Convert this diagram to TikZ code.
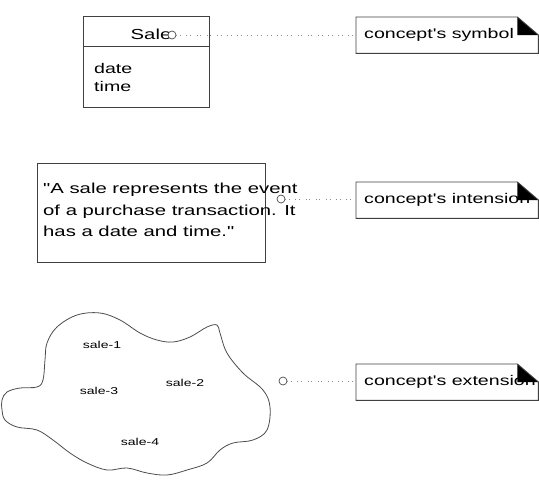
\documentclass[tikz,border=0pt]{standalone}
\usepackage{fontspec}
\setmainfont[FakeStretch=1.4, Ligatures=TeXReset]{Liberation Sans}
\begin{document}
\begin{tikzpicture}[x=1pt,y=-1pt,
  box/.style={draw=black!75, line width=0.9pt},
  dotline/.style={draw=black!45, line width=0.8pt, dash pattern=on 0.8pt off 3pt on 0.8pt off 5.5pt},
  port/.style={circle, draw=black!70, line width=0.7pt, fill=white, minimum size=8pt, inner sep=0pt},
  notebox/.style={minimum width=182pt, minimum height=36pt, anchor=north west, inner sep=0pt},
  notetext/.style={font=\fontsize{14}{16}\selectfont, anchor=west, inner sep=0pt},
  lbl/.style={font=\fontsize{10}{12}\selectfont, inner sep=0pt}
]
\useasboundingbox (0,0) rectangle (539,480);

% class box
\node[box, minimum width=126pt, minimum height=30pt, anchor=north west, inner sep=0pt] (cls) at (83,16) {};
\node[box, minimum width=126pt, minimum height=61pt, anchor=north west, inner sep=0pt] (attr) at (83,46) {};
\node[font=\fontsize{14.5}{16}\selectfont, inner sep=0pt] (sale) at (151,34) {Sale};
\node[font=\fontsize{14}{18}\selectfont, anchor=north west, align=left, inner sep=0pt] (attrs) at (94,63) {date\\time};
\node[port] (c1) at (172,35) {};

% intension box
\node[box, minimum width=228pt, minimum height=99pt, anchor=north west, inner sep=0pt] (def) at (37,163) {};
\node[font=\fontsize{14.5}{21.5}\selectfont, anchor=north west, align=left, inner sep=0pt] (deftext) at (43,183)
  {"A sale represents the event\\of a purchase transaction. It\\has a date and time."};
\node[port] (c2) at (281,199) {};

% extension blob
\draw[draw=black!70, line width=0.8pt] plot[smooth cycle, tension=0.6] coordinates {
 (2,400) (7,392) (20,388) (37,387) (43,380) (45,360) (47,343) (57,327) (77,315) (100,313)
 (120,320) (140,333) (157,340) (173,342) (190,337) (207,327) (217,325) (220,333) (227,353)
 (243,373) (263,390) (270,407) (267,430) (253,440) (233,443) (220,450) (207,463) (187,470)
 (167,475) (147,473) (127,468) (107,470) (87,463) (70,453) (53,440) (37,430) (17,427) (5,420) (2,410)};
\node[lbl] (s1) at (102,345) {sale-1};
\node[lbl] (s3) at (99,391) {sale-3};
\node[lbl] (s2) at (185,383) {sale-2};
\node[lbl] (s4) at (140,442) {sale-4};
\node[port] (c3) at (283,381) {};

% notes
\node[notebox] (n1) at (356,17) {};
\node[notebox] (n2) at (356,182) {};
\node[notebox] (n3) at (356,364) {};
\node[notetext] (t1) at ([xshift=8pt]n1.west) {concept's symbol};
\node[notetext] (t2) at ([xshift=8pt]n2.west) {concept's intension};
\node[notetext] (t3) at ([xshift=8pt]n3.west) {concept's extension};
\foreach \n in {n1,n2,n3}{
  \fill[white] ([xshift=-21pt]\n.north east) -- (\n.north east) -- ([yshift=-18pt]\n.north east) -- cycle;
  \fill[black] ([xshift=-21pt]\n.north east) -- ([xshift=-21pt,yshift=-18pt]\n.north east) -- ([yshift=-18pt]\n.north east) -- cycle;
  \draw[box] ([xshift=-21pt]\n.north east) -- (\n.north west) -- (\n.south west) -- (\n.south east) -- ([yshift=-18pt]\n.north east) -- cycle;
}

% connectors
\draw[dotline] (c1) -- (n1.west |- c1);
\draw[dotline] (c2) -- (n2.west |- c2);
\draw[dotline] (c3) -- (n3.west |- c3);
\end{tikzpicture}
\end{document}
